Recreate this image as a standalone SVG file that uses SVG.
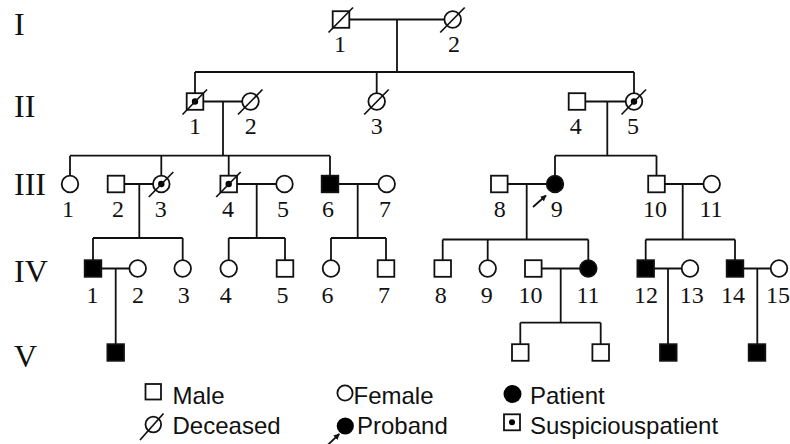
<svg xmlns="http://www.w3.org/2000/svg" width="790" height="444" viewBox="0 0 790 444">
<style>
.m{fill:#fff;stroke:#111;stroke-width:1.8}
.f{fill:#fff;stroke:#111;stroke-width:1.8}
.a{fill:#000}
.dot{fill:#000}
.d{stroke:#111;stroke-width:1.7;fill:none}
.ln{stroke:#111;stroke-width:1.8;fill:none}
.lbl{font-family:"Liberation Serif","Times New Roman",serif;font-size:24px;fill:#111;text-anchor:middle}
.gen{font-family:"Liberation Serif","Times New Roman",serif;font-size:32px;fill:#111}
.leg{font-family:"Liberation Sans",Arial,sans-serif;font-size:24px;fill:#111}
</style>
<defs>
<marker id="arr" viewBox="0 0 10 10" refX="9" refY="5" markerWidth="6" markerHeight="6" orient="auto" markerUnits="userSpaceOnUse">
<path d="M0,0 L10,5 L0,10 z" fill="#111"/>
</marker>
</defs>
<rect width="790" height="444" fill="#fff"/>
<g id="generations">
<text class="gen" x="14" y="35">I</text>
<text class="gen" x="14" y="117">II</text>
<text class="gen" x="14" y="195">III</text>
<text class="gen" x="14" y="282">IV</text>
<text class="gen" x="14" y="367">V</text>
</g>
<g id="connectors" class="ln">
<path d="M349.3 19.5H444.4M397 19.5V72M195 72H634M195 72V93.2M376.7 72V93.2M634 72V93.2"/>
<path d="M203.3 101.5H242.2M223 101.5V155.7M70 155.7H330M70 155.7V175.7M161.3 155.7V175.7M228.7 155.7V175.7M330 155.7V175.7"/>
<path d="M585.3 101.5H625.7M607.3 101.5V155.7M555 155.7H656.5M555 155.7V175.7M656.5 155.7V175.7"/>
<path d="M124.3 184H153M139.3 184V238M93 238H182.7M93 238V260.2M182.7 238V260.2"/>
<path d="M237 184H276.2M256.7 184V238M228.7 238H285M228.7 238V260.2M285 238V260.2"/>
<path d="M338.3 184H378.4M357.7 184V238M331 238H386M331 238V260.2M386 238V260.2"/>
<path d="M507.6 184H546.7M526.7 184V239.5M442.7 239.5H588.3M442.7 239.5V260.2M487.7 239.5V260.2M588.3 239.5V260.2"/>
<path d="M664.8 184H703.4M682.7 184V239.5M645.7 239.5H735M645.7 239.5V260.2M735 239.5V260.2"/>
<path d="M101.3 268.5H129.4M115.7 268.5V344.2"/>
<path d="M541.6 268.5H580M560.7 268.5V322.7M520.3 322.7H600.7M520.3 322.7V344.2M600.7 322.7V344.2"/>
<path d="M654 268.5H681.7M668 268.5V344.2"/>
<path d="M743.3 268.5H770.7M757.3 268.5V344.2"/>
<line x1="533" y1="207" x2="546" y2="195.5" marker-end="url(#arr)"/>
</g>
<g id="I-1"><rect class="m" x="332.7" y="11.2" width="16.6" height="16.6"/><line class="d" x1="328.5" y1="32.5" x2="353" y2="7.5"/><text class="lbl" x="340" y="52">1</text></g>
<g id="I-2"><circle class="f" cx="452.7" cy="19.5" r="8.3"/><line class="d" x1="440.2" y1="32.5" x2="464.7" y2="7.5"/><text class="lbl" x="454" y="52">2</text></g>
<g id="II-1"><rect class="m" x="186.7" y="93.2" width="16.6" height="16.6"/><circle class="dot" cx="195" cy="101.5" r="3.2"/><line class="d" x1="182.5" y1="114.5" x2="207" y2="89.5"/><text class="lbl" x="195" y="134">1</text></g>
<g id="II-2"><circle class="f" cx="250.5" cy="101.5" r="8.3"/><line class="d" x1="238" y1="114.5" x2="262.5" y2="89.5"/><text class="lbl" x="250.7" y="134">2</text></g>
<g id="II-3"><circle class="f" cx="376.7" cy="101.5" r="8.3"/><line class="d" x1="364.2" y1="114.5" x2="388.7" y2="89.5"/><text class="lbl" x="376.7" y="134">3</text></g>
<g id="II-4"><rect class="m" x="568.7" y="93.2" width="16.6" height="16.6"/><text class="lbl" x="575.7" y="134">4</text></g>
<g id="II-5"><circle class="f" cx="634" cy="101.5" r="8.3"/><circle class="dot" cx="634" cy="101.5" r="3.2"/><line class="d" x1="621.5" y1="114.5" x2="646" y2="89.5"/><text class="lbl" x="633" y="134">5</text></g>
<g id="III-1"><circle class="f" cx="70" cy="184" r="8.3"/><text class="lbl" x="68" y="217">1</text></g>
<g id="III-2"><rect class="m" x="107.7" y="175.7" width="16.6" height="16.6"/><text class="lbl" x="118" y="217">2</text></g>
<g id="III-3"><circle class="f" cx="161.3" cy="184" r="8.3"/><circle class="dot" cx="161.3" cy="184" r="3.2"/><line class="d" x1="148.8" y1="197" x2="173.3" y2="172"/><text class="lbl" x="160.7" y="217">3</text></g>
<g id="III-4"><rect class="m" x="220.4" y="175.7" width="16.6" height="16.6"/><circle class="dot" cx="228.7" cy="184" r="3.2"/><line class="d" x1="216.2" y1="197" x2="240.7" y2="172"/><text class="lbl" x="228" y="217">4</text></g>
<g id="III-5"><circle class="f" cx="284.5" cy="184" r="8.3"/><text class="lbl" x="283" y="217">5</text></g>
<g id="III-6"><rect class="m a" x="321.7" y="175.7" width="16.6" height="16.6"/><text class="lbl" x="328" y="217">6</text></g>
<g id="III-7"><circle class="f" cx="386.7" cy="184" r="8.3"/><text class="lbl" x="385" y="217">7</text></g>
<g id="III-8"><rect class="m" x="491" y="175.7" width="16.6" height="16.6"/><text class="lbl" x="499.7" y="217">8</text></g>
<g id="III-9"><circle class="f a" cx="555" cy="184" r="8.3"/><text class="lbl" x="556.7" y="217">9</text></g>
<g id="III-10"><rect class="m" x="648.2" y="175.7" width="16.6" height="16.6"/><text class="lbl" x="655" y="217">10</text></g>
<g id="III-11"><circle class="f" cx="711.7" cy="184" r="8.3"/><text class="lbl" x="711" y="217">11</text></g>
<g id="IV-1"><rect class="m a" x="84.7" y="260.2" width="16.6" height="16.6"/><text class="lbl" x="92.5" y="303">1</text></g>
<g id="IV-2"><circle class="f" cx="137.7" cy="268.5" r="8.3"/><text class="lbl" x="138" y="303">2</text></g>
<g id="IV-3"><circle class="f" cx="182.7" cy="268.5" r="8.3"/><text class="lbl" x="183.7" y="303">3</text></g>
<g id="IV-4"><circle class="f" cx="228.7" cy="268.5" r="8.3"/><text class="lbl" x="225.7" y="303">4</text></g>
<g id="IV-5"><rect class="m" x="276.7" y="260.2" width="16.6" height="16.6"/><text class="lbl" x="282.5" y="303">5</text></g>
<g id="IV-6"><circle class="f" cx="331" cy="268.5" r="8.3"/><text class="lbl" x="327.5" y="303">6</text></g>
<g id="IV-7"><rect class="m" x="377.7" y="260.2" width="16.6" height="16.6"/><text class="lbl" x="384" y="303">7</text></g>
<g id="IV-8"><rect class="m" x="434.4" y="260.2" width="16.6" height="16.6"/><text class="lbl" x="440.8" y="303">8</text></g>
<g id="IV-9"><circle class="f" cx="487.7" cy="268.5" r="8.3"/><text class="lbl" x="486.7" y="303">9</text></g>
<g id="IV-10"><rect class="m" x="525" y="260.2" width="16.6" height="16.6"/><text class="lbl" x="530.5" y="303">10</text></g>
<g id="IV-11"><circle class="f a" cx="588.3" cy="268.5" r="8.3"/><text class="lbl" x="588" y="303">11</text></g>
<g id="IV-12"><rect class="m a" x="637.4" y="260.2" width="16.6" height="16.6"/><text class="lbl" x="646" y="303">12</text></g>
<g id="IV-13"><circle class="f" cx="690" cy="268.5" r="8.3"/><text class="lbl" x="691.7" y="303">13</text></g>
<g id="IV-14"><rect class="m a" x="726.7" y="260.2" width="16.6" height="16.6"/><text class="lbl" x="733" y="303">14</text></g>
<g id="IV-15"><circle class="f" cx="779" cy="268.5" r="8.3"/><text class="lbl" x="778" y="303">15</text></g>
<g id="V-1"><rect class="m a" x="107.4" y="344.2" width="16.6" height="16.6"/></g>
<g id="V-2"><rect class="m" x="512" y="344.2" width="16.6" height="16.6"/></g>
<g id="V-3"><rect class="m" x="592.4" y="344.2" width="16.6" height="16.6"/></g>
<g id="V-4"><rect class="m a" x="660" y="344.2" width="16.6" height="16.6"/></g>
<g id="V-5"><rect class="m a" x="748.7" y="344.2" width="16.6" height="16.6"/></g>
<g id="legend">
<rect class="m" x="145.5" y="384" width="15.5" height="15.5"/>
<text class="leg" x="172.5" y="404">Male</text>
<circle class="f" cx="153.3" cy="424.5" r="7.8"/>
<line class="d" x1="140" y1="440" x2="163.5" y2="413.5"/>
<text class="leg" x="172.5" y="433.5">Deceased</text>
<circle class="f" cx="345" cy="393" r="7.6"/>
<text class="leg" x="353.5" y="404">Female</text>
<circle class="a" cx="345.3" cy="426" r="8.6"/>
<line class="ln" x1="326.7" y1="446" x2="339.3" y2="434" marker-end="url(#arr)"/>
<text class="leg" x="357" y="433.5">Proband</text>
<circle class="a" cx="512.5" cy="394" r="9"/>
<text class="leg" x="530" y="404">Patient</text>
<rect class="m" x="504" y="414.3" width="16" height="16"/>
<circle class="dot" cx="512" cy="422.3" r="3"/>
<text class="leg" x="530" y="433.5">Suspiciouspatient</text>
</g>
</svg>
